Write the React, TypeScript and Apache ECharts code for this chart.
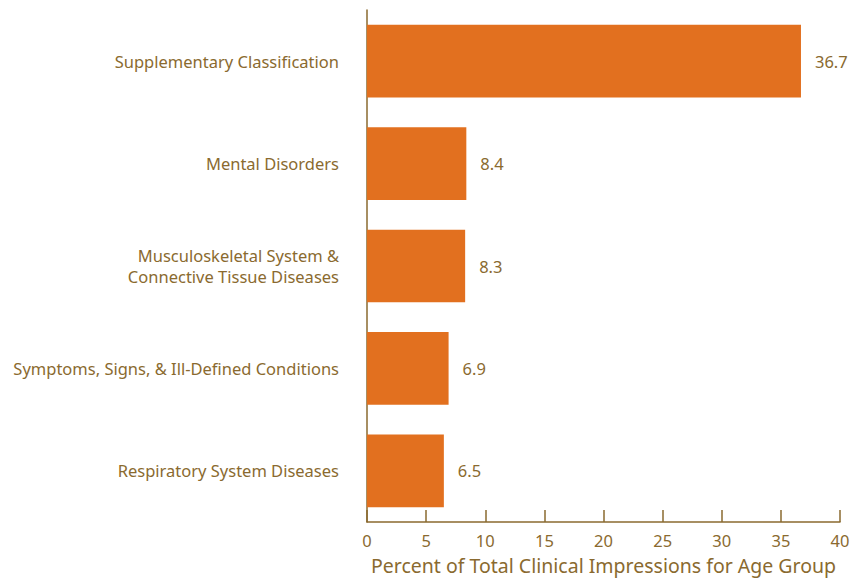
import React, { useEffect, useRef } from "react";
import * as echarts from "echarts";

const categories = [
  "Supplementary Classification",
  "Mental Disorders",
  "Musculoskeletal System &\nConnective Tissue Diseases",
  "Symptoms, Signs, & Ill-Defined Conditions",
  "Respiratory System Diseases",
];
const values = [36.7, 8.4, 8.3, 6.9, 6.5];
const xTicks = { min: 0, max: 40, interval: 5 };
const xAxisName = "Percent of Total Clinical Impressions for Age Group";

const TEXT = "#8a6a2f";
const AXIS = "#8a6a2f";
const BAR = "#e2701f";
const FONT = "'Noto Sans', sans-serif";

export default function App() {
  const ref = useRef<HTMLDivElement>(null);
  useEffect(() => {
    document.body.style.margin = "0";
    document.body.style.overflow = "hidden";
    if (!ref.current) return;
    const chart = echarts.init(ref.current, null, { renderer: "svg" });
    chart.setOption({
      animation: false,
      grid: { left: 367, right: 14, top: 10, bottom: 56, containLabel: false, outerBoundsMode: "none" },
      xAxis: {
        type: "value",
        min: xTicks.min,
        max: xTicks.max,
        interval: xTicks.interval,
        name: xAxisName,
        nameLocation: "middle",
        nameGap: 33,
        nameTextStyle: { color: TEXT, fontSize: 19.5, fontFamily: FONT },
        axisLine: { show: true, lineStyle: { color: AXIS, width: 1.5 } },
        axisTick: { show: true, inside: true, length: 12, lineStyle: { color: AXIS, width: 1.5 } },
        axisLabel: { color: TEXT, fontSize: 16.5, fontFamily: FONT, margin: 10 },
        splitLine: { show: false },
      },
      yAxis: {
        type: "category",
        data: categories,
        inverse: true,
        axisLine: { show: true, lineStyle: { color: AXIS, width: 1.5 } },
        axisTick: { show: false },
        axisLabel: { color: TEXT, fontSize: 16.5, fontFamily: FONT, margin: 28, lineHeight: 21, align: "right" },
      },
      series: [
        {
          type: "bar",
          data: values,
          barWidth: "71%",
          itemStyle: { color: BAR },
          label: {
            show: true,
            position: "right",
            distance: 14,
            color: TEXT,
            fontSize: 16.5,
            fontFamily: FONT,
          },
        },
      ],
    });
    return () => chart.dispose();
  }, []);
  return <div ref={ref} style={{ position: "absolute", left: 0, top: 0, width: 854, height: 578 }} />;
}
